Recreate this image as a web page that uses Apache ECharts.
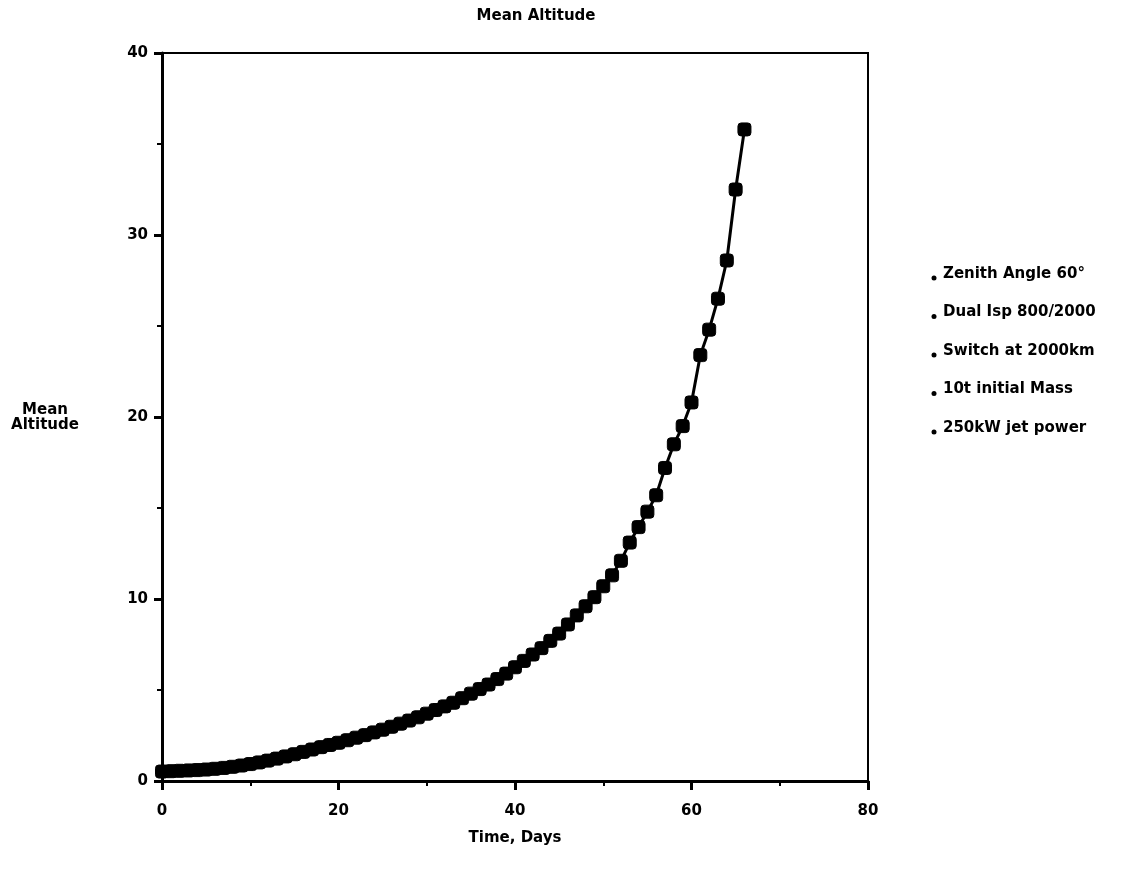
<!DOCTYPE html>
<html>
<head>
<meta charset="utf-8">
<script src="https://cdn.jsdelivr.net/npm/echarts@6/dist/echarts.min.js"></script>
<style>
html,body{margin:0;padding:0;background:#fff;}
#main{width:1137px;height:876px;}
</style>
</head>
<body>
<div id="main"></div>
<script>
// Data (time in days, mean altitude)
const days = [0,1,2,3,4,5,6,7,8,9,10,11,12,13,14,15,16,17,18,19,20,21,22,23,24,25,26,27,28,29,30,31,32,33,34,35,36,37,38,39,40,41,42,43,44,45,46,47,48,49,50,51,52,53,54,55,56,57,58,59,60,61,62,63,64,65,66];
const altitude = [0.52,0.54,0.56,0.58,0.60,0.63,0.67,0.72,0.78,0.85,0.93,1.02,1.12,1.23,1.35,1.47,1.60,1.73,1.86,1.98,2.10,2.24,2.38,2.52,2.67,2.82,2.98,3.15,3.32,3.50,3.70,3.90,4.10,4.30,4.55,4.80,5.05,5.30,5.60,5.90,6.25,6.60,6.95,7.30,7.70,8.10,8.60,9.10,9.60,10.10,10.70,11.30,12.10,13.10,13.95,14.80,15.70,17.20,18.50,19.50,20.80,23.40,24.80,26.50,28.60,32.50,35.80];
const xTicks = [0,20,40,60,80];
const yTicks = [0,10,20,30,40];
const notes = ['Zenith Angle 60°','Dual Isp 800/2000','Switch at 2000km','10t initial Mass','250kW jet power'];
const titleText = 'Mean Altitude';
const xName = 'Time, Days';
const yName = 'Mean\nAltitude';

const FONT = '"DejaVu Sans", sans-serif';
const chart = echarts.init(document.getElementById('main'));
const pts = days.map((d, i) => [d, altitude[i]]);

const noteGraphics = [];
notes.forEach((t, i) => {
  const cy = 274 + i * 38.5;
  noteGraphics.push({
    type: 'circle', shape: { cx: 934, cy: cy + 4, r: 2.5 }, style: { fill: '#000' }
  });
  noteGraphics.push({
    type: 'text', x: 943, y: cy,
    style: { text: t, fontFamily: FONT, fontWeight: 'bold', fontSize: 15, fill: '#000', verticalAlign: 'middle', align: 'left' }
  });
});

chart.setOption({
  backgroundColor: '#fff',
  animation: false,
  title: {
    text: titleText, left: 531, top: 4, textAlign: 'center',
    textStyle: { fontFamily: FONT, fontWeight: 'bold', fontSize: 15, color: '#000' }
  },
  grid: { left: 162, right: 269, top: 53, bottom: 95, show: true, borderColor: '#000', borderWidth: 2, backgroundColor: 'transparent' },
  xAxis: {
    type: 'value', min: xTicks[0], max: xTicks[xTicks.length - 1], interval: 20,
    name: xName, nameLocation: 'middle', nameGap: 50,
    nameTextStyle: { fontFamily: FONT, fontWeight: 'bold', fontSize: 15, color: '#000' },
    axisLine: { show: true, lineStyle: { color: '#000', width: 3 } },
    axisTick: { show: true, length: 9, lineStyle: { color: '#000', width: 3 } },
    minorTick: { show: true, splitNumber: 2, length: 5, lineStyle: { color: '#000', width: 2 } },
    splitLine: { show: false },
    axisLabel: { margin: 23, fontFamily: FONT, fontWeight: 'bold', fontSize: 15, color: '#000' }
  },
  yAxis: {
    type: 'value', min: yTicks[0], max: yTicks[yTicks.length - 1], interval: 10,
    axisLine: { show: true, lineStyle: { color: '#000', width: 3 } },
    axisTick: { show: true, length: 8, lineStyle: { color: '#000', width: 3 } },
    minorTick: { show: true, splitNumber: 2, length: 5, lineStyle: { color: '#000', width: 2 } },
    splitLine: { show: false },
    axisLabel: { margin: 14, fontFamily: FONT, fontWeight: 'bold', fontSize: 15, color: '#000' }
  },
  graphic: [
    {
      type: 'text', x: 45, y: 418,
      style: { text: yName, fontFamily: FONT, fontWeight: 'bold', fontSize: 15, fill: '#000', align: 'center', verticalAlign: 'middle', lineHeight: 15 }
    }
  ].concat(noteGraphics),
  series: [{
    type: 'line',
    data: pts,
    symbol: 'roundRect',
    symbolSize: 13,
    lineStyle: { color: '#000', width: 3 },
    itemStyle: { color: '#000', borderColor: '#000' },
    clip: false
  }]
});
</script>
</body>
</html>
